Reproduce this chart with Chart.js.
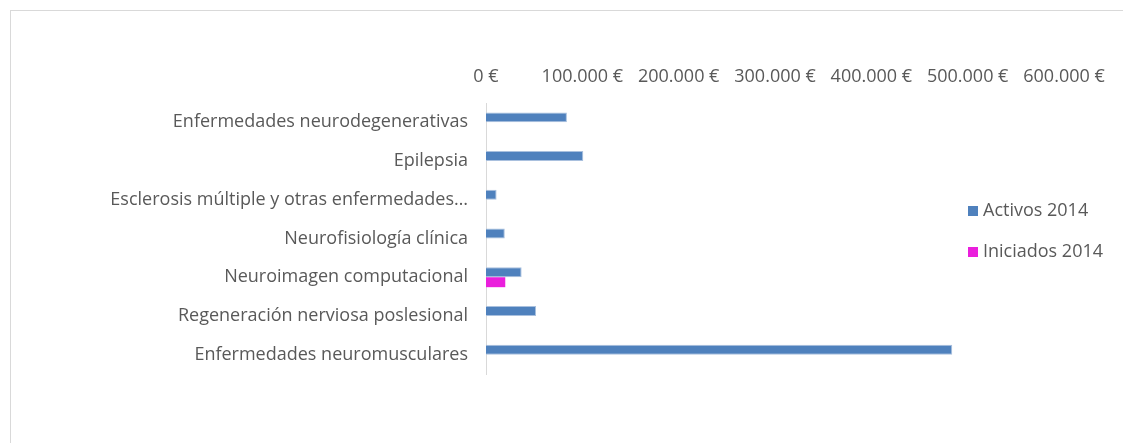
<!DOCTYPE html>
<html>
<head>
<meta charset="utf-8">
<script src="https://cdn.jsdelivr.net/npm/chart.js@4"></script>
<style>
  html, body { margin: 0; padding: 0; background: #fff; }
  #wrap { position: absolute; left: 0; top: 0; width: 1123px; height: 443px; }
  #frame { position: absolute; left: 10px; top: 10px; width: 1120px; height: 440px; border: 1px solid #d9d9d9; box-sizing: border-box; }
</style>
</head>
<body>
<div id="wrap">
  <div id="frame"></div>
  <canvas id="chart" width="1123" height="443"></canvas>
</div>
<script>
// categorias y valores (euros)
const categorias = [
  "Enfermedades neurodegenerativas",
  "Epilepsia",
  "Esclerosis múltiple y otras enfermedades…",
  "Neurofisiología clínica",
  "Neuroimagen computacional",
  "Regeneración nerviosa poslesional",
  "Enfermedades neuromusculares"
];
const activos2014 = [84000, 101000, 11000, 19500, 37000, 52000, 484000];
const iniciados2014 = [null, null, null, null, 20000, null, null];
const ticksEje = [0, 100000, 200000, 300000, 400000, 500000, 600000];

const gris = "#595959";
Chart.defaults.font.family = "'Open Sans', sans-serif";
Chart.defaults.font.size = 18;
Chart.defaults.color = gris;

const euros = (v) => String(v).replace(/\B(?=(\d{3})+(?!\d))/g, ".") + " €";

// leyenda dibujada a mano a la derecha
const leyenda = {
  id: "leyenda",
  afterDraw(chart) {
    const c = chart.ctx;
    c.save();
    c.font = "18px " + Chart.defaults.font.family;
    c.textBaseline = "middle";
    chart.data.datasets.forEach((ds, i) => {
      const y = 211 + i * 41;
      c.fillStyle = ds.backgroundColor;
      c.fillRect(968, y - 5, 10, 10);
      c.fillStyle = gris;
      c.fillText(ds.label, 983, y);
    });
    c.restore();
  }
};

new Chart(document.getElementById("chart"), {
  type: "bar",
  data: {
    labels: categorias,
    datasets: [
      { label: "Activos 2014", data: activos2014, backgroundColor: "#4f81bd",
        borderColor: "#a9c0de", borderWidth: 1 },
      { label: "Iniciados 2014", data: iniciados2014, backgroundColor: "#ea1fdc" }
    ]
  },
  options: {
    indexAxis: "y",
    responsive: false,
    animation: false,
    layout: { padding: { left: 0, right: 59, top: 40, bottom: 69 } },
    plugins: { legend: { display: false }, tooltip: { enabled: false } },
    datasets: { bar: { categoryPercentage: 0.515, barPercentage: 1 } },
    scales: {
      x: {
        position: "top",
        min: 0, max: 600000,
        afterBuildTicks: (s) => { s.ticks = ticksEje.map((v) => ({ value: v })); },
        ticks: { callback: (v) => euros(v), padding: 15, maxRotation: 0 },
        grid: { display: false, drawTicks: false },
        border: { display: false },
        afterFit: (s) => { s.height = 63; }
      },
      y: {
        ticks: { padding: 18 },
        grid: { display: false, drawTicks: false },
        border: { color: "#d9d9d9", width: 1 },
        afterFit: (s) => { s.width = 486; }
      }
    }
  },
  plugins: [leyenda]
});
</script>
</body>
</html>
